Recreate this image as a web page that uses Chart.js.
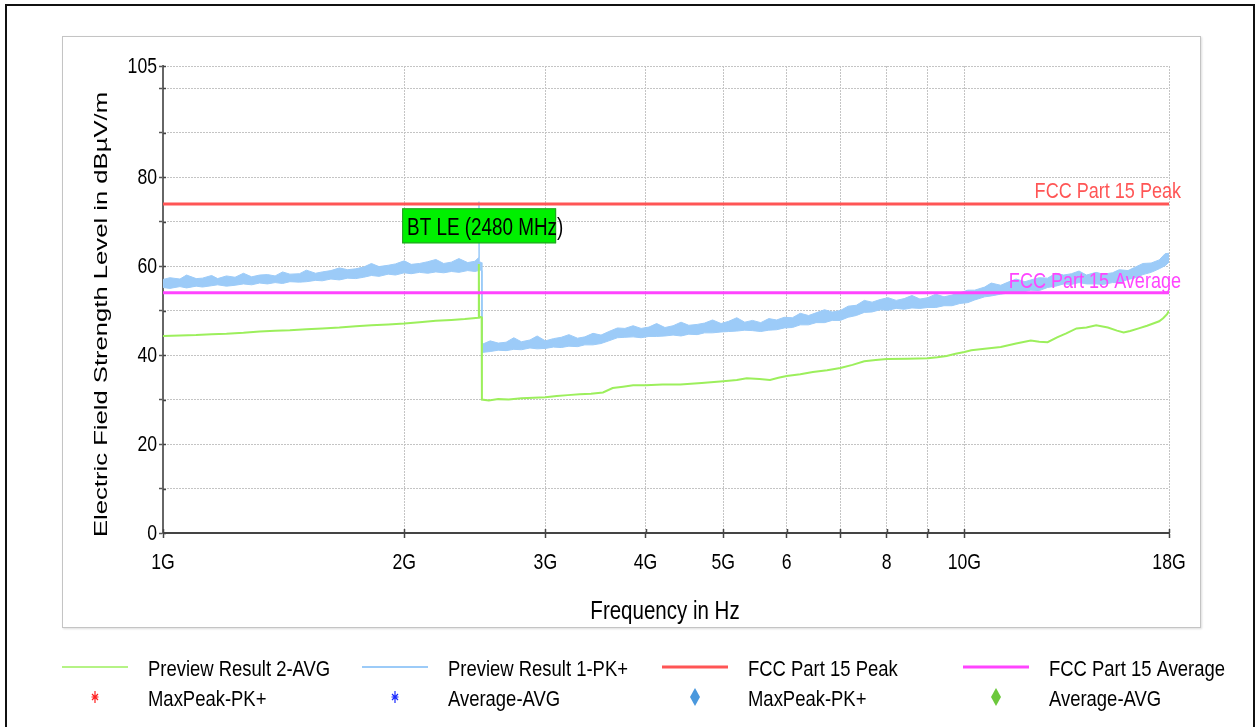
<!DOCTYPE html>
<html>
<head>
<meta charset="utf-8">
<title>Preview Result</title>
<script src="https://cdn.jsdelivr.net/npm/chart.js"></script>
<style>
  html, body { margin: 0; padding: 0; background: #fff; }
  body { width: 1257px; height: 727px; position: relative; overflow: hidden; }
  #frame { position: absolute; left: 5px; top: 4px; width: 1250px; height: 800px; border: 2px solid #111; box-sizing: border-box; }
  #panel { position: absolute; left: 62px; top: 36px; width: 1139px; height: 592px; border: 1px solid #c4c4c4; box-sizing: border-box; box-shadow: 1px 1px 2px #ddd; }
  #chart { position: absolute; left: 0; top: 0; }
</style>
</head>
<body>
<div id="frame"></div>
<div id="panel"></div>
<canvas id="chart" width="1257" height="727"></canvas>
<script>
// frequencies in GHz, levels in dBuV/m
const pkFreq = [
  1.00, 1.02, 1.05, 1.07, 1.10, 1.12, 1.15, 1.17, 1.20, 1.23,
  1.26, 1.29, 1.32, 1.35, 1.38, 1.41, 1.44, 1.48, 1.51, 1.55,
  1.58, 1.62, 1.66, 1.70, 1.74, 1.78, 1.82, 1.86, 1.91, 1.95,
  2.00, 2.04, 2.09, 2.14, 2.19, 2.24, 2.29, 2.34, 2.40, 2.45,
  2.476, 2.479, 2.481, 2.497,
  2.50, 2.56, 2.62, 2.68, 2.74, 2.80, 2.87, 2.93, 3.00, 3.07,
  3.14, 3.21, 3.29, 3.36, 3.44, 3.52, 3.60, 3.69, 3.77, 3.86,
  3.95, 4.04, 4.13, 4.23, 4.33, 4.43, 4.53, 4.64, 4.74, 4.85,
  4.97, 5.08, 5.20, 5.32, 5.44, 5.57, 5.70, 5.83, 5.96, 6.10,
  6.24, 6.39, 6.53, 6.69, 6.84, 7.00, 7.16, 7.33, 7.50, 7.67,
  7.85, 8.03, 8.22, 8.41, 8.60, 8.80, 9.00, 9.21, 9.43, 9.65,
  9.87, 10.1, 10.3, 10.6, 10.8, 11.1, 11.3, 11.6, 11.9, 12.1,
  12.4, 12.7, 13.0, 13.3, 13.6, 13.9, 14.2, 14.6, 14.9, 15.3,
  15.6, 16.0, 16.3, 16.7, 17.1, 17.5, 17.8, 18.0
];
// upper and lower edge of the noisy PK+ trace
const pkMax = [
  57.0, 57.4, 57.1, 58.0, 57.2, 57.3, 57.9, 57.2, 57.8, 57.5,
  58.4, 57.6, 58.0, 58.1, 57.8, 58.7, 58.2, 58.3, 59.1, 58.4,
  58.7, 59.0, 59.6, 59.2, 59.4, 59.8, 60.6, 59.9, 60.2, 60.5,
  61.2, 60.4, 60.6, 61.0, 61.5, 60.6, 60.9, 61.7, 60.8, 61.1,
  61.9, 74.5, 61.0, 60.8,
  42.4, 43.2, 42.7, 42.9, 43.9, 43.0, 43.4, 44.3, 43.2, 43.7,
  44.0, 44.6, 43.8, 44.1, 44.9, 44.5, 45.3, 46.1, 46.0, 46.6,
  46.0, 46.3, 47.1, 46.2, 46.6, 47.4, 46.7, 46.9, 47.2, 47.9,
  47.1, 47.6, 48.4, 47.4, 47.8, 47.3, 48.2, 47.9, 48.5, 48.4,
  49.4, 48.9, 49.5, 50.2, 49.7, 50.0, 51.0, 51.2, 52.3, 51.9,
  52.5, 52.9, 52.3, 52.7, 53.4, 52.6, 52.9, 53.7, 53.1, 53.5,
  54.0, 54.6, 54.6, 55.3, 56.2, 55.7, 56.3, 57.1, 56.5, 56.9,
  57.4, 57.3, 58.4, 58.0, 58.3, 58.9, 58.0, 58.6, 58.2, 58.5,
  59.2, 59.0, 59.7, 60.6, 60.7, 61.4, 62.8, 62.9
];
const pkMin = [
  55.2, 55.0, 55.4, 55.1, 55.5, 55.3, 55.6, 55.8, 55.5, 55.7,
  56.0, 55.8, 56.2, 56.0, 56.3, 56.1, 56.5, 56.4, 56.5, 56.8,
  56.7, 57.1, 56.9, 57.3, 57.2, 57.5, 57.9, 57.7, 58.2, 58.0,
  58.5, 58.3, 58.6, 58.4, 58.7, 58.5, 58.8, 58.6, 59.0, 58.8,
  59.0, 60.0, 59.2, 59.0,
  40.6, 40.8, 41.1, 41.0, 41.3, 41.2, 41.6, 41.4, 41.5, 41.8,
  41.7, 42.0, 41.9, 42.3, 42.3, 42.6, 43.2, 43.9, 44.0, 44.1,
  43.9, 44.2, 44.2, 44.3, 44.5, 44.3, 44.7, 44.6, 45.0, 45.0,
  45.2, 45.3, 45.4, 45.6, 45.5, 45.3, 45.6, 45.7, 46.1, 46.2,
  46.8, 46.8, 47.3, 47.3, 47.8, 47.8, 48.5, 48.9, 49.6, 49.7,
  50.2, 50.1, 50.5, 50.3, 50.6, 50.5, 50.7, 50.7, 51.1, 51.1,
  51.6, 51.8, 52.4, 53.1, 53.3, 53.7, 53.9, 54.3, 54.3, 54.6,
  54.5, 55.2, 55.5, 56.0, 55.9, 56.3, 56.0, 56.0, 55.9, 56.3,
  56.3, 57.0, 57.3, 58.1, 58.6, 59.4, 60.1, 60.9
];

const avgFreq = [
  1.00, 1.05, 1.10, 1.15, 1.20, 1.26, 1.32, 1.38, 1.44, 1.51,
  1.58, 1.66, 1.74, 1.82, 1.91, 2.00, 2.09, 2.19, 2.29, 2.38,
  2.476, 2.478, 2.480, 2.498, 2.500,
  2.55, 2.62, 2.70, 2.80, 2.90, 3.00, 3.10, 3.20, 3.31, 3.42,
  3.54, 3.64, 3.75, 3.86, 4.00, 4.20, 4.42, 4.70, 5.00, 5.20,
  5.35, 5.55, 5.72, 5.86, 6.00, 6.24, 6.47, 6.74, 7.00, 7.25,
  7.50, 7.75, 8.00, 8.50, 9.00, 9.25, 9.50, 9.75, 10.0, 10.2,
  10.6, 11.1, 11.6, 12.1, 12.4, 12.7, 13.05, 13.4, 13.8, 14.2,
  14.6, 15.1, 15.5, 15.8, 16.1, 16.5, 16.9, 17.2, 17.5, 17.7,
  17.9, 18.0
];
const avgLevel = [
  44.3, 44.4, 44.5, 44.7, 44.8, 45.0, 45.3, 45.5, 45.6, 45.8,
  46.0, 46.2, 46.5, 46.7, 46.9, 47.1, 47.4, 47.7, 47.9, 48.1,
  48.4, 60.5, 48.6, 48.5, 30.0,
  29.8, 30.1, 30.0, 30.3, 30.4, 30.5, 30.8, 31.0, 31.2, 31.3,
  31.6, 32.6, 32.9, 33.2, 33.2, 33.4, 33.4, 33.7, 34.1, 34.4,
  34.8, 34.6, 34.4, 34.9, 35.3, 35.7, 36.2, 36.6, 37.1, 37.8,
  38.6, 38.9, 39.1, 39.2, 39.3, 39.5, 39.8, 40.3, 40.7, 41.1,
  41.4, 41.8, 42.6, 43.3, 43.0, 42.9, 44.0, 44.9, 46.0, 46.2,
  46.7, 46.2, 45.5, 45.1, 45.4, 46.0, 46.6, 47.1, 47.6, 48.3,
  49.2, 50.0
];

const limitFreq = [1, 18];
const peakLimit = [74, 74];
const avgLimit = [54, 54];
const limitText = ["FCC Part 15 Peak", "FCC Part 15 Average"];

const markerFreq = [2.48];
const markerText = ["BT LE (2480 MHz)"];

const xTickValues = [1, 2, 3, 4, 5, 6, 7, 8, 9, 10, 18];
const xTickLabels = ["1G", "2G", "3G", "4G", "5G", "6", "", "8", "", "10G", "18G"];
const yTickValues = [0, 10, 20, 30, 40, 50, 60, 70, 80, 90, 100, 105];
const yTickLabels = ["0", "", "20", "", "40", "", "60", "", "80", "", "", "105"];

const xTitle = "Frequency in Hz";
const yTitle = "Electric Field Strength Level in dBµV/m";

const legendLines = ["Preview Result 2-AVG", "Preview Result 1-PK+", "FCC Part 15 Peak", "FCC Part 15 Average"];
const legendMarks = ["MaxPeak-PK+", "Average-AVG", "MaxPeak-PK+", "Average-AVG"];

const GREEN = "#9cef5c";
const BLUE = "#9ccbf8";
const RED = "#ff5555";
const MAGENTA = "#ff44ff";
const SANS = '"Liberation Sans", Arial, sans-serif';

function pts(xs, ys) {
  return xs.map((x, i) => ({ x: x, y: ys[i] }));
}

// the original uses a condensed face; squeeze Liberation Sans to match
function narrowText(ctx, text, x, y, size, align) {
  ctx.save();
  ctx.font = size + "px " + SANS;
  ctx.translate(x, y);
  ctx.scale(0.82, 1);
  ctx.textAlign = align;
  ctx.fillText(text, 0, 0);
  ctx.restore();
}

const decor = {
  id: "decor",
  afterDatasetsDraw(chart) {
    const ctx = chart.ctx;
    const area = chart.chartArea;
    const x = chart.scales.x;
    const y = chart.scales.y;
    ctx.save();
    ctx.textBaseline = "alphabetic";

    // limit line labels
    ctx.fillStyle = RED;
    narrowText(ctx, limitText[0], area.right + 12, y.getPixelForValue(peakLimit[1]) - 6, 22, "right");
    ctx.fillStyle = MAGENTA;
    narrowText(ctx, limitText[1], area.right + 12, y.getPixelForValue(avgLimit[1]) - 5, 22, "right");

    // marker label box
    const mx = x.getPixelForValue(markerFreq[0]);
    const top = y.getPixelForValue(73);
    ctx.fillStyle = "#00f000";
    ctx.fillRect(mx - 77, top, 154, 35);
    ctx.strokeStyle = "#2a9a2a";
    ctx.lineWidth = 1;
    ctx.strokeRect(mx - 76.5, top + 0.5, 153, 34);
    ctx.fillStyle = "#000";
    narrowText(ctx, markerText[0], mx - 72, top + 27, 23, "left");
    ctx.restore();
  },
  afterDraw(chart) {
    const ctx = chart.ctx;
    const area = chart.chartArea;
    const x = chart.scales.x;
    const y = chart.scales.y;
    ctx.save();

    // inner half of the tick marks (they cross the axis in the original)
    ctx.strokeStyle = "#444";
    ctx.lineWidth = 1.5;
    ctx.beginPath();
    xTickValues.forEach((v) => {
      const px = Math.round(x.getPixelForValue(v)) + 0.5;
      ctx.moveTo(px, area.bottom);
      ctx.lineTo(px, area.bottom - 4);
    });
    yTickValues.forEach((v) => {
      const py = Math.round(y.getPixelForValue(v)) + 0.5;
      ctx.moveTo(area.left, py);
      ctx.lineTo(area.left + 3, py);
    });
    ctx.stroke();

    ctx.fillStyle = "#000";
    ctx.textBaseline = "middle";

    // tick labels
    xTickValues.forEach((v, i) => {
      if (xTickLabels[i]) narrowText(ctx, xTickLabels[i], x.getPixelForValue(v), area.bottom + 30, 21.5, "center");
    });
    yTickValues.forEach((v, i) => {
      if (yTickLabels[i]) narrowText(ctx, yTickLabels[i], area.left - 6, y.getPixelForValue(v) + 1, 21.5, "right");
    });

    // y axis title, stretched like the original
    ctx.textBaseline = "alphabetic";
    ctx.font = "18px " + SANS;
    const w = ctx.measureText(yTitle).width;
    ctx.translate(107, 314.5);
    ctx.rotate(-Math.PI / 2);
    ctx.scale(445 / w, 1);
    ctx.textAlign = "center";
    ctx.fillText(yTitle, 0, 0);
    ctx.setTransform(1, 0, 0, 1, 0, 0);

    // x axis title
    narrowText(ctx, xTitle, 665, 619, 25, "center");

    // legend, 4 columns x 2 rows
    const cols = [62, 362, 662, 963];
    const lineStyles = [[GREEN, 1.5], [BLUE, 2], [RED, 3], [MAGENTA, 3]];
    ctx.textBaseline = "middle";
    for (let i = 0; i < 4; i++) {
      const cx = cols[i];
      ctx.strokeStyle = lineStyles[i][0];
      ctx.lineWidth = lineStyles[i][1];
      ctx.beginPath();
      ctx.moveTo(cx, 667);
      ctx.lineTo(cx + 66, 667);
      ctx.stroke();
      ctx.fillStyle = "#000";
      narrowText(ctx, legendLines[i], cx + 86, 670, 22.5, "left");
      narrowText(ctx, legendMarks[i], cx + 86, 700, 22.5, "left");
    }
    // asterisks
    [["#ff2020", cols[0] + 33], ["#1a2aff", cols[1] + 33]].forEach(function (m) {
      const mx = m[1], my = 697;
      ctx.strokeStyle = m[0];
      ctx.lineWidth = 1.2;
      ctx.beginPath();
      ctx.moveTo(mx, my - 6); ctx.lineTo(mx, my + 6);
      ctx.moveTo(mx - 3, my - 3); ctx.lineTo(mx + 3, my + 3);
      ctx.moveTo(mx + 3, my - 3); ctx.lineTo(mx - 3, my + 3);
      ctx.moveTo(mx - 3.5, my); ctx.lineTo(mx + 3.5, my);
      ctx.stroke();
    });
    // diamonds
    [["#4a98dd", cols[2] + 33], ["#6cc83c", cols[3] + 33]].forEach(function (m) {
      const mx = m[1], my = 697;
      ctx.fillStyle = m[0];
      ctx.beginPath();
      ctx.moveTo(mx, my - 9);
      ctx.lineTo(mx + 5, my);
      ctx.lineTo(mx, my + 9);
      ctx.lineTo(mx - 5, my);
      ctx.closePath();
      ctx.fill();
    });
    ctx.restore();
  }
};

new Chart(document.getElementById("chart"), {
  type: "line",
  data: {
    datasets: [
      {
        label: limitText[0],
        data: pts(limitFreq, peakLimit),
        borderColor: RED,
        borderWidth: 3,
        order: 0
      },
      {
        label: limitText[1],
        data: pts(limitFreq, avgLimit),
        borderColor: MAGENTA,
        borderWidth: 3,
        order: 0
      },
      {
        label: legendLines[0],
        data: pts(avgFreq, avgLevel),
        borderColor: GREEN,
        borderWidth: 2,
        order: 1
      },
      {
        label: legendLines[1],
        data: pts(pkFreq, pkMax),
        borderColor: BLUE,
        backgroundColor: BLUE,
        borderWidth: 1,
        fill: "+1",
        order: 2
      },
      {
        label: legendLines[1] + " min",
        data: pts(pkFreq, pkMin),
        borderColor: BLUE,
        borderWidth: 1,
        order: 2
      }
    ]
  },
  options: {
    responsive: false,
    animation: false,
    events: [],
    layout: { padding: { left: 63, top: 66, right: 88, bottom: 154 } },
    elements: { point: { radius: 0 }, line: { tension: 0 } },
    plugins: { legend: { display: false }, tooltip: { enabled: false } },
    scales: {
      x: {
        type: "logarithmic",
        min: 1,
        max: 18,
        afterBuildTicks: (s) => {
          s.ticks = xTickValues.map((v) => ({ value: v }));
        },
        afterFit: (s) => {
          s.height = 40;
        },
        grid: { color: "#c4c4c4", lineWidth: 1, tickLength: 5, tickColor: "#444", tickWidth: 1.5, tickBorderDash: [] },
        border: { color: "#444", width: 2, dash: [2, 1] },
        ticks: { display: false, autoSkip: false, maxRotation: 0, minRotation: 0 }
      },
      y: {
        min: 0,
        max: 105,
        afterBuildTicks: (s) => {
          s.ticks = yTickValues.map((v) => ({ value: v }));
        },
        afterFit: (s) => {
          s.width = 100;
        },
        grid: { color: "#c4c4c4", lineWidth: 1, tickLength: 4, tickColor: "#555", tickWidth: 1.5, tickBorderDash: [] },
        border: { color: "#666", width: 2, dash: [2, 1] },
        ticks: { display: false }
      }
    }
  },
  plugins: [decor]
});
</script>
</body>
</html>
